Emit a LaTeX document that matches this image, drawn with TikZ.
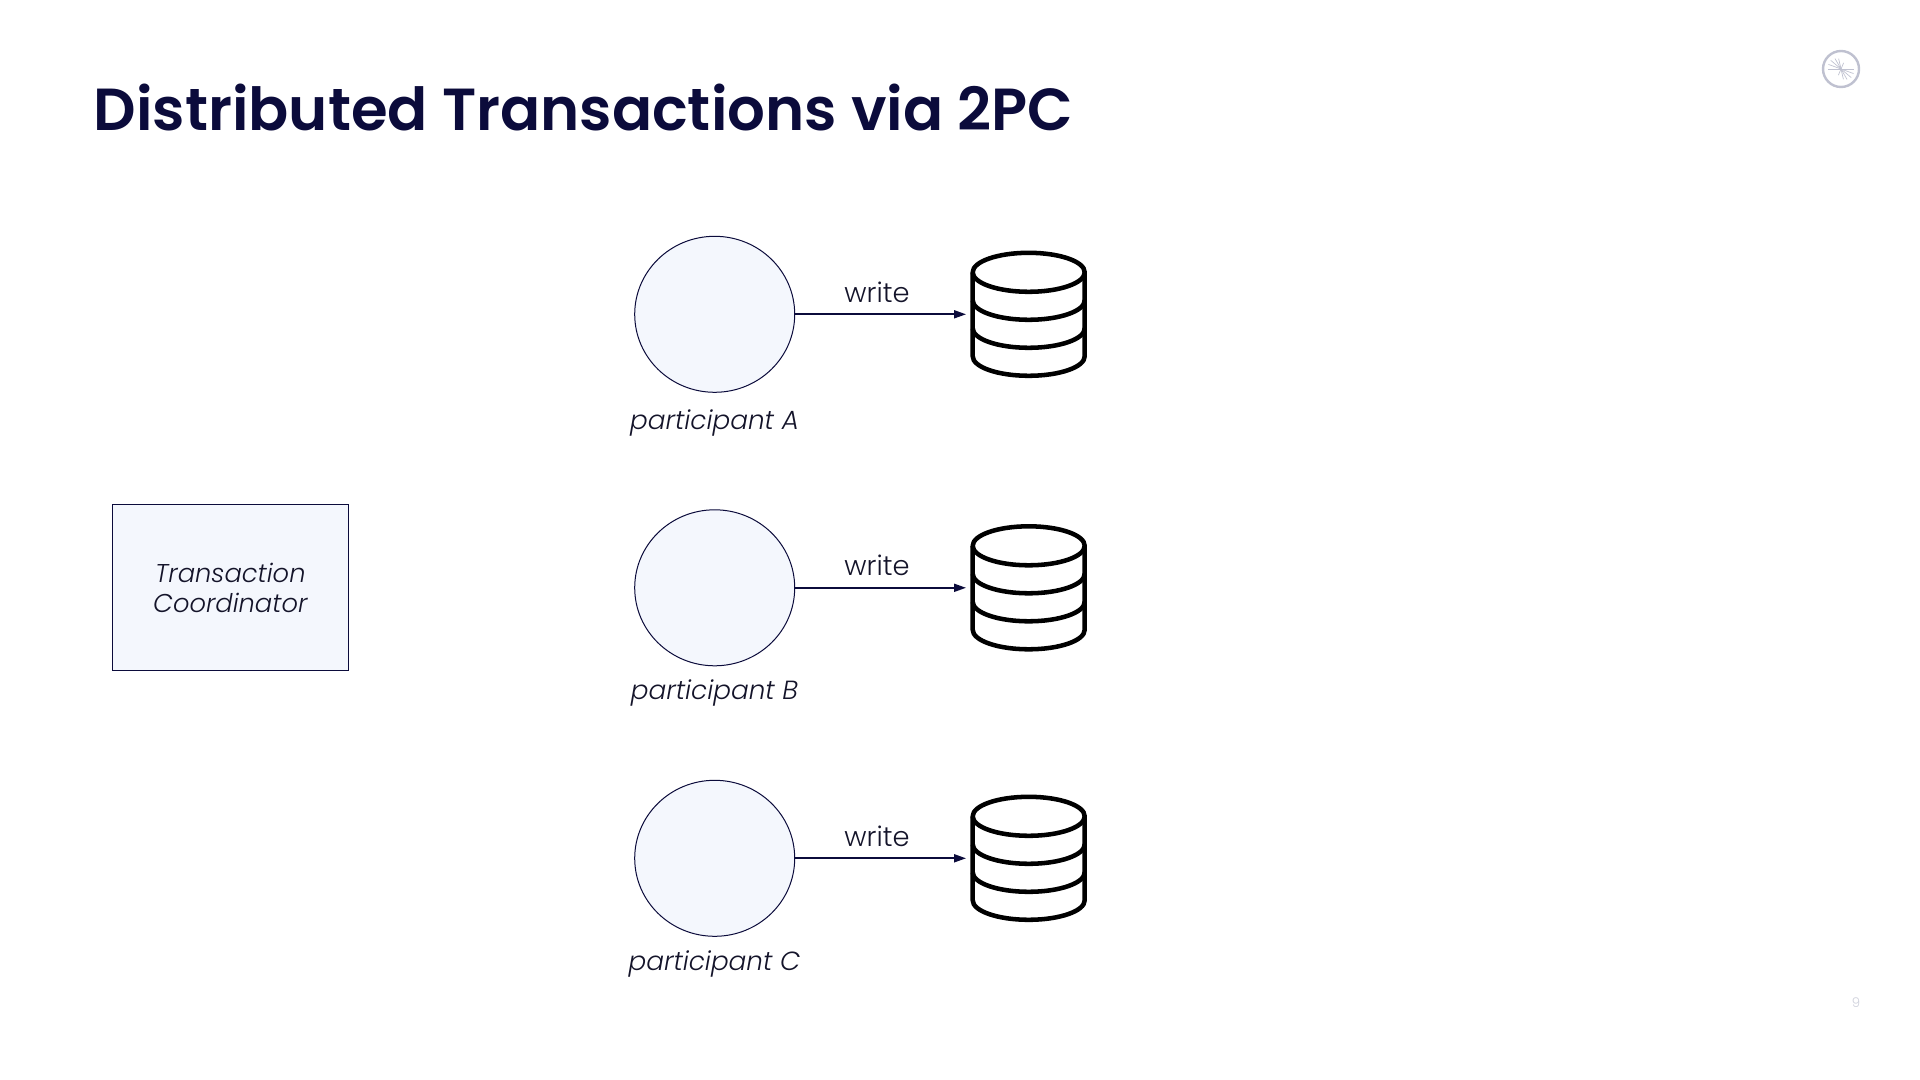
\documentclass[tikz,border=0pt]{standalone}
\usepackage{fontspec}
\setmainfont{Poppins Light}[ItalicFont={Poppins Light Italic},BoldFont={Poppins SemiBold}]
\usetikzlibrary{arrows.meta,shapes.geometric}
\definecolor{ink}{HTML}{0B0B3B}
\definecolor{soft}{HTML}{F4F7FD}
\definecolor{txt}{HTML}{14142A}
\definecolor{logo}{HTML}{BFC1D0}
\tikzset{
  partnode/.style={ellipse,draw=ink,fill=soft,line width=0.75pt,minimum width=120pt,minimum height=117pt,inner sep=0pt,outer sep=0pt},
  coordbox/.style={rectangle,draw=ink,fill=soft,line width=0.9pt,minimum width=177pt,minimum height=125pt,inner sep=0pt,outer sep=0pt,align=center},
  dbbox/.style={rectangle,minimum width=84pt,minimum height=93pt,inner sep=0pt,outer sep=0pt},
  dbline/.style={draw=black,line width=3.4pt,line join=round},
  flow/.style={draw=ink,line width=1.35pt,-{Triangle[length=9pt,width=6pt]}},
  lab/.style={font=\fontsize{20.5}{24}\selectfont,text=txt,anchor=base,inner sep=0pt},
  ital/.style={font=\fontsize{19.7}{22}\selectfont\itshape,text=txt,inner sep=0pt}
}
\begin{document}
\begin{tikzpicture}[x=0.75pt,y=-0.75pt]
\useasboundingbox (0,0) rectangle (1920,1080);
\fill[white] (0,0) rectangle (1920,1080);
\node[anchor=base west,inner sep=0pt,text=ink,font=\fontsize{44.5}{50}\selectfont\bfseries] (title) at (93.5,131) {Distributed Transactions via 2PC};

\node[coordbox] (tc) at (230.3,587.5) {};
\node[ital,font=\fontsize{19.3}{22}\selectfont\itshape,align=center,anchor=center] (tclabel) at (230.3,588) {Transaction\\Coordinator};

\foreach \n/\y/\b in {A/314.3/429,B/587.8/699.6,C/858.3/970}{
  \node[partnode] (p\n) at (714.7,\y) {};
  \node[ital,anchor=base] (l\n) at (714.5,\b) {participant \n};
  \node[dbbox] (db\n) at (1028.7,\y) {};
  \begin{scope}[shift={(1028.7,\y)}]
    \draw[dbline] (0,-42) ellipse [x radius=56,y radius=19.5];
    \draw[dbline] (-56,-42) -- (-56,42) arc [start angle=180,end angle=0,x radius=56,y radius=19.5] -- (56,-42);
    \draw[dbline] (-56,-14) arc [start angle=180,end angle=0,x radius=56,y radius=19.5];
    \draw[dbline] (-56,14) arc [start angle=180,end angle=0,x radius=56,y radius=19.5];
  \end{scope}
  \draw[flow,shorten >=5pt] (p\n.east) -- (p\n.east -| db\n.west);
  \node[lab] (w\n) at (877,\y-12) {write};
}

% logo
\node[circle,draw=logo,line width=1.8pt,minimum size=27pt,inner sep=0pt] (logomark) at (1841,69) {};
\foreach \ang/\len in {180/10,160/10,140/10,120/9,103/8,0/10,-20/10,-40/10,-60/9,-77/8,67/5,247/5}{
  \draw[logo,line width=0.5pt] (logomark.center) -- ++(\ang:\len pt);
}
\node[inner sep=0pt,text=logo!75,font=\fontsize{10}{12}\selectfont] (pagenum) at (1856,1002.5) {9};
\end{tikzpicture}
\end{document}
